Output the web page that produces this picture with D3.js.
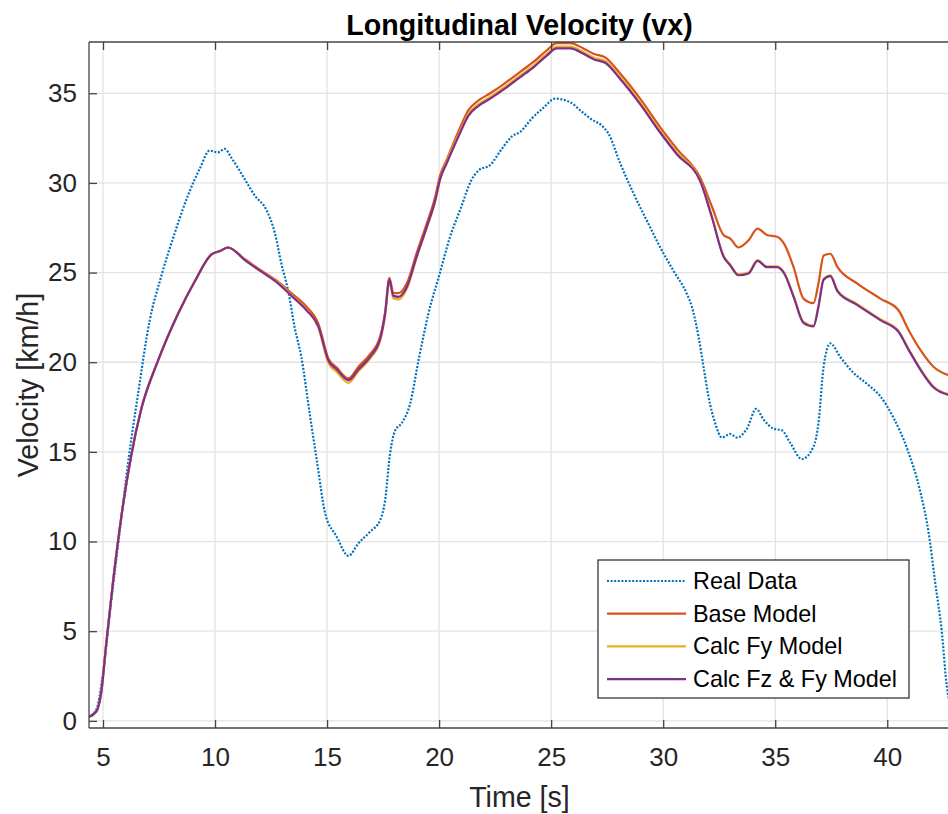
<!DOCTYPE html>
<html>
<head>
<meta charset="utf-8">
<script src="https://cdn.jsdelivr.net/npm/d3@7"></script>
<style>
  body { margin: 0; background: #fff; }
  svg { display: block; font-family: "Liberation Sans", Arial, Helvetica, sans-serif; }
</style>
</head>
<body>
<svg width="948" height="814"></svg>
<script>
// values
const realTime = [4.33, 4.70, 5.00, 5.37, 5.74, 6.12, 6.56, 7.08, 7.60, 8.20, 8.79, 9.32, 9.76, 10.13, 10.43, 10.73, 11.33, 11.77, 12.29, 12.67, 12.96, 13.26, 13.56, 13.85, 14.24, 14.54, 14.91, 15.43, 15.95, 16.40, 16.92, 17.37, 17.59, 17.81, 18.04, 18.33, 18.71, 19.08, 19.52, 20.04, 20.49, 20.94, 21.46, 21.76, 22.28, 22.80, 23.25, 23.62, 24.14, 24.66, 25.18, 25.85, 26.29, 26.74, 27.34, 27.56, 28.08, 28.68, 29.27, 29.87, 30.46, 31.06, 31.28, 31.58, 31.80, 32.02, 32.32, 32.62, 32.99, 33.29, 33.74, 34.15, 34.48, 34.92, 35.30, 35.67, 36.19, 36.71, 36.93, 37.16, 37.46, 37.90, 38.50, 39.09, 39.69, 40.28, 40.88, 41.47, 41.85, 42.14, 42.44, 42.66, 42.80]
const realSpeed = [0.2, 0.62, 2.65, 6.7, 10.5, 14.4, 18.2, 22.3, 24.8, 27.2, 29.3, 30.8, 31.8, 31.7, 31.9, 31.4, 30.2, 29.3, 28.5, 27.2, 25.5, 24.0, 21.9, 20.3, 17.0, 14.55, 11.6, 10.27, 9.2, 9.9, 10.55, 11.2, 12.3, 14.9, 16.2, 16.6, 17.7, 20.1, 22.7, 25.0, 27.0, 28.5, 30.2, 30.7, 31.0, 31.9, 32.6, 32.85, 33.6, 34.2, 34.7, 34.5, 34.06, 33.6, 33.1, 32.75, 31.1, 29.4, 27.9, 26.4, 25.1, 23.8, 23.1, 21.4, 19.75, 18.1, 16.6, 15.8, 16.0, 15.8, 16.3, 17.4, 16.8, 16.3, 16.2, 15.5, 14.6, 15.3, 16.6, 19.75, 21.05, 20.3, 19.4, 18.8, 18.1, 16.9, 15.2, 12.8, 10.46, 7.7, 4.9, 1.9, 0.9]

const modelTime = [4.33, 4.70, 4.92, 5.15, 5.45, 5.82, 6.26, 6.71, 7.46, 8.35, 9.09, 9.83, 10.21, 10.58, 11.33, 12.07, 12.81, 13.41, 14.08, 14.61, 15.06, 15.43, 15.95, 16.40, 16.92, 17.37, 17.59, 17.78, 17.96, 18.18, 18.56, 19.00, 19.45, 19.82, 20.04, 20.34, 20.94, 21.31, 21.76, 22.28, 22.87, 23.62, 24.21, 24.81, 25.25, 25.85, 26.44, 26.89, 27.41, 28.08, 28.97, 29.87, 30.61, 31.65, 32.17, 32.69, 32.99, 33.36, 33.81, 34.21, 34.63, 35.08, 35.40, 35.82, 36.26, 36.71, 36.93, 37.16, 37.46, 37.78, 38.65, 39.69, 40.50, 40.95, 41.47, 42.06, 42.80]
const baseSpeed = [0.2, 0.52, 1.6, 4.4, 7.8, 11.4, 14.8, 17.4, 20.1, 22.7, 24.5, 26.0, 26.2, 26.4, 25.75, 25.1, 24.5, 23.85, 23.1, 22.15, 20.2, 19.7, 19.1, 19.75, 20.45, 21.45, 22.8, 24.7, 23.85, 23.85, 24.4, 26.1, 27.75, 29.2, 30.4, 31.3, 33.1, 34.06, 34.6, 35.0, 35.5, 36.2, 36.75, 37.4, 37.8, 37.8, 37.5, 37.2, 37.0, 36.1, 34.7, 33.1, 31.9, 30.3, 28.7, 27.1, 26.9, 26.4, 26.8, 27.45, 27.1, 27.0, 26.6, 25.3, 23.55, 23.3, 24.4, 25.95, 26.05, 25.3, 24.4, 23.55, 22.9, 21.8, 20.7, 19.75, 19.25]
const calcFySpeed = [0.2, 0.52, 1.6, 4.4, 7.8, 11.4, 14.8, 17.4, 20.1, 22.7, 24.5, 26.0, 26.2, 26.4, 25.7, 25.05, 24.45, 23.75, 22.95, 21.95, 19.95, 19.45, 18.85, 19.5, 20.2, 21.2, 22.6, 24.5, 23.55, 23.5, 24.1, 25.85, 27.5, 28.95, 30.2, 31.2, 32.9, 33.85, 34.4, 34.8, 35.3, 36.0, 36.55, 37.2, 37.6, 37.6, 37.3, 37.0, 36.8, 35.9, 34.5, 32.9, 31.7, 30.15, 28.15, 25.95, 25.45, 24.9, 25.0, 25.7, 25.35, 25.35, 25.0, 23.7, 22.25, 22.05, 23.15, 24.65, 24.85, 24.0, 23.25, 22.4, 21.75, 20.75, 19.65, 18.65, 18.2]
const calcFzFySpeed = [0.2, 0.52, 1.58, 4.36, 7.77, 11.4, 14.8, 17.4, 20.1, 22.7, 24.5, 26.0, 26.2, 26.4, 25.7, 25.05, 24.4, 23.7, 22.9, 22.0, 20.1, 19.6, 19.0, 19.6, 20.3, 21.3, 22.7, 24.6, 23.7, 23.65, 24.2, 25.9, 27.55, 29.0, 30.2, 31.1, 32.8, 33.75, 34.3, 34.7, 35.2, 35.9, 36.45, 37.1, 37.5, 37.5, 37.2, 36.9, 36.7, 35.8, 34.4, 32.8, 31.6, 30.1, 28.1, 25.9, 25.4, 24.85, 24.95, 25.65, 25.3, 25.3, 24.95, 23.65, 22.2, 22.0, 23.1, 24.6, 24.8, 23.95, 23.2, 22.35, 21.7, 20.7, 19.6, 18.6, 18.15]

const xTicks = [5, 10, 15, 20, 25, 30, 35, 40]
const yTicks = [0, 5, 10, 15, 20, 25, 30, 35]
const legendNames = ['Real Data', 'Base Model', 'Calc Fy Model', 'Calc Fz & Fy Model']
const colors = ['#0072BD', '#D95319', '#EDB120', '#7E2F8E']

const plotLeft = 89, plotRight = 950, plotTop = 42, plotBottom = 728

const x = d3.scaleLinear().domain([4.375, 42.8]).range([plotLeft, plotRight])
const y = d3.scaleLinear().domain([-0.4, 37.86]).range([plotBottom, plotTop])

const svg = d3.select('svg')

svg.append('defs').append('clipPath').attr('id', 'plotclip')
    .append('rect')
    .attr('x', plotLeft).attr('y', plotTop)
    .attr('width', plotRight - plotLeft).attr('height', plotBottom - plotTop)

// grid
svg.append('g')
    .selectAll('line')
    .data(xTicks)
    .join('line')
        .attr('x1', d => x(d)).attr('x2', d => x(d))
        .attr('y1', plotTop).attr('y2', plotBottom)
        .attr('stroke', '#e3e3e3')
        .attr('stroke-width', 1.3)

svg.append('g')
    .selectAll('line')
    .data(yTicks)
    .join('line')
        .attr('x1', plotLeft).attr('x2', plotRight)
        .attr('y1', d => y(d)).attr('y2', d => y(d))
        .attr('stroke', '#e3e3e3')
        .attr('stroke-width', 1.3)

// series
const series = [
    {name: legendNames[0], t: realTime, v: realSpeed, color: colors[0], dash: '2,1.6'},
    {name: legendNames[1], t: modelTime, v: baseSpeed, color: colors[1], dash: null},
    {name: legendNames[2], t: modelTime, v: calcFySpeed, color: colors[2], dash: null},
    {name: legendNames[3], t: modelTime, v: calcFzFySpeed, color: colors[3], dash: null}
]

const line = d3.line()
    .x(d => x(d[0]))
    .y(d => y(d[1]))
    .curve(d3.curveMonotoneX)

svg.append('g')
    .attr('clip-path', 'url(#plotclip)')
    .selectAll('path')
    .data(series)
    .join('path')
        .attr('fill', 'none')
        .attr('stroke', d => d.color)
        .attr('stroke-width', 2.2)
        .attr('stroke-dasharray', d => d.dash)
        .attr('stroke-linejoin', 'round')
        .attr('d', d => line(d.t.map((t, i) => [t, d.v[i]])))

// axes (MATLAB style: box, inward ticks)
const axisColor = '#444'
const frame = svg.append('g')
frame.append('line').attr('x1', plotLeft).attr('x2', plotRight).attr('y1', plotTop).attr('y2', plotTop)
frame.append('line').attr('x1', plotLeft).attr('x2', plotRight).attr('y1', plotBottom).attr('y2', plotBottom)
frame.append('line').attr('x1', plotLeft).attr('x2', plotLeft).attr('y1', plotTop).attr('y2', plotBottom)
frame.selectAll('line').attr('stroke', axisColor).attr('stroke-width', 1.3)

const xAxis = d3.axisBottom(x).tickValues(xTicks).tickSizeInner(-8).tickSizeOuter(0).tickPadding(20)
const xTop = d3.axisTop(x).tickValues(xTicks).tickSizeInner(-8).tickSizeOuter(0).tickFormat('')
const yAxis = d3.axisLeft(y).tickValues(yTicks).tickSizeInner(-8).tickSizeOuter(0).tickPadding(12)

function styleAxis(g) {
    g.select('.domain').remove()
    g.selectAll('line').attr('stroke', axisColor).attr('stroke-width', 1.3)
    g.selectAll('text')
        .attr('fill', '#262626')
        .style('font-size', '26px')
        .style('font-family', '"Liberation Sans", Arial, sans-serif')
}

svg.append('g').attr('transform', `translate(0,${plotBottom})`).call(xAxis).call(styleAxis)
svg.append('g').attr('transform', `translate(0,${plotTop})`).call(xTop).call(styleAxis)
svg.append('g').attr('transform', `translate(${plotLeft},0)`).call(yAxis).call(styleAxis)

// labels
svg.append('text')
    .attr('x', (plotLeft + plotRight) / 2)
    .attr('y', 25)
    .attr('text-anchor', 'middle')
    .attr('dominant-baseline', 'central')
    .style('font-size', '28.6px')
    .style('font-weight', 700)
    .attr('fill', '#000')
    .text('Longitudinal Velocity (vx)')

svg.append('text')
    .attr('x', (plotLeft + plotRight) / 2)
    .attr('y', 797)
    .attr('text-anchor', 'middle')
    .attr('dominant-baseline', 'central')
    .style('font-size', '28.6px')
    .attr('fill', '#262626')
    .text('Time [s]')

svg.append('text')
    .attr('transform', `translate(28,${(plotTop + plotBottom) / 2}) rotate(-90)`)
    .attr('text-anchor', 'middle')
    .attr('dominant-baseline', 'central')
    .style('font-size', '28.6px')
    .attr('fill', '#262626')
    .text('Velocity [km/h]')

// legend
const legend = svg.append('g').attr('transform', 'translate(598,560)')
legend.append('rect')
    .attr('width', 311)
    .attr('height', 138)
    .attr('fill', '#fff')
    .attr('stroke', '#262626')
    .attr('stroke-width', 1.2)

legend.selectAll('g')
    .data(series)
    .join(enter => {
        const g = enter.append('g')
            .attr('transform', (d, i) => `translate(0, ${21 + i * 32.7})`)
        g.append('line')
            .attr('x1', 9).attr('x2', 88)
            .attr('stroke', d => d.color)
            .attr('stroke-width', 2.2)
            .attr('stroke-dasharray', d => d.dash)
        g.append('text')
            .attr('x', 95)
            .attr('dominant-baseline', 'central')
            .style('font-size', '23.4px')
            .attr('fill', '#000')
            .text(d => d.name)
        return g
    })
</script>
</body>
</html>
